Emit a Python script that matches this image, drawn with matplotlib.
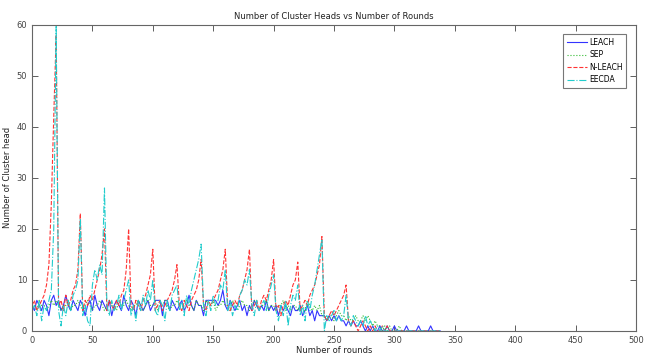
import matplotlib
matplotlib.use("Agg")
import matplotlib.pyplot as plt
import numpy as np

# rounds sampled every 2 rounds
rounds = np.arange(0, 340, 2)

leach = [5, 4, 6, 5, 4, 6, 5, 3, 6, 7,
         5, 6, 4, 5, 7, 5, 4, 6, 5, 4,
         6, 5, 3, 5, 6, 4, 7, 5, 4, 6,
         5, 4, 6, 3, 5, 6, 5, 4, 7, 5,
         4, 6, 5, 3, 6, 5, 4, 5, 6, 4,
         5, 6, 6, 6, 3, 6, 6, 4, 6, 5,
         4, 5, 6, 4, 5, 7, 5, 4, 6, 5,
         5, 3, 6, 6, 6, 6, 6, 5, 6, 8,
         5, 4, 6, 5, 4, 5, 6, 4, 5, 3,
         5, 4, 6, 5, 4, 5, 4, 6, 4, 5,
         4, 5, 3, 5, 4, 5, 4, 3, 5, 4,
         4, 5, 3, 4, 5, 3, 4, 2, 4, 3,
         3, 3, 2, 3, 2, 3, 2, 3, 2, 2,
         1, 2, 1, 2, 1, 1, 2, 1, 0, 1,
         0, 1, 0, 0, 1, 0, 0, 1, 0, 0,
         1, 0, 0, 0, 0, 1, 0, 0, 0, 0,
         1, 0, 0, 0, 0, 1, 0, 0, 0, 0]

sep = [5, 5, 4, 6, 5, 5, 4, 5, 6, 5,
       6, 5, 4, 5, 5, 6, 4, 5, 5, 6,
       5, 4, 5, 6, 5, 4, 5, 5, 6, 5,
       4, 5, 6, 5, 5, 4, 6, 5, 5, 6,
       5, 4, 5, 5, 6, 5, 4, 5, 6, 5,
       5, 6, 4, 5, 5, 6, 5, 4, 5, 5,
       6, 5, 4, 5, 6, 5, 5, 4, 6, 5,
       5, 4, 6, 5, 5, 6, 4, 5, 5, 6,
       5, 5, 4, 6, 5, 4, 5, 6, 5, 5,
       4, 5, 6, 5, 4, 5, 5, 6, 4, 5,
       5, 4, 5, 5, 6, 4, 5, 4, 5, 5,
       4, 5, 5, 4, 6, 5, 4, 5, 4, 5,
       3, 3, 2, 3, 3, 2, 3, 4, 3, 3,
       2, 3, 2, 2, 3, 2, 2, 3, 2, 3,
       2, 1, 2, 1, 1, 0, 1, 0, 1, 0,
       0, 0, 1, 0, 0, 0, 0, 0, 0, 0,
       0, 0, 0, 0, 0, 0, 0, 0, 0, 0]

nleach = [5, 6, 4, 5, 6, 7, 9, 13, 25, 42,
          58, 5, 6, 4, 7, 5, 6, 8, 9, 12,
          23, 4, 6, 5, 7, 6, 8, 10, 12, 15,
          20, 4, 6, 5, 4, 6, 5, 7, 8, 12,
          20, 5, 4, 6, 5, 4, 6, 7, 9, 11,
          16, 4, 5, 6, 4, 5, 6, 7, 8, 10,
          13, 5, 4, 6, 5, 4, 6, 7, 8, 10,
          14, 5, 4, 6, 5, 6, 7, 8, 10, 12,
          16, 5, 4, 5, 6, 5, 7, 8, 10, 12,
          16, 4, 5, 6, 4, 6, 7, 6, 8, 10,
          14, 4, 5, 3, 5, 6, 5, 7, 9, 10,
          13.5, 4, 5, 6, 5, 7, 8, 9, 11, 13,
          18.5, 3, 2, 3, 4, 3, 4, 5, 6, 7,
          9, 2, 1, 2, 1, 0, 1, 2, 1, 0,
          1, 0, 1, 0, 0, 1, 0, 1, 0, 0,
          0, 0, 0, 0, 0, 0, 0, 0, 0, 0,
          0, 0, 0, 0, 0, 0, 0, 0, 0, 0]

eecda = [4, 5, 3, 6, 2, 5, 4, 6, 8, 20,
         60, 4, 1, 5, 3, 6, 4, 7, 8, 10,
         22, 3, 5, 2, 1, 9, 12, 10, 13, 11,
         28, 5, 3, 6, 4, 5, 7, 4, 6, 8,
         10, 3, 5, 2, 6, 4, 7, 5, 8, 6,
         10, 4, 3, 6, 5, 2, 6, 4, 7, 8,
         9, 4, 6, 3, 7, 5, 8, 10, 12, 14,
         17, 5, 3, 6, 4, 7, 5, 6, 9, 8,
         12, 4, 6, 3, 5, 4, 7, 8, 10, 9,
         12, 5, 3, 6, 4, 5, 6, 4, 7, 9,
         11, 4, 2, 5, 3, 6, 1, 5, 7, 6,
         9, 3, 5, 2, 6, 4, 7, 9, 12, 15,
         18, 0, 3, 2, 3, 4, 2, 3, 2, 3,
         7, 2, 1, 3, 2, 1, 2, 1, 3, 1,
         2, 1, 0, 1, 0, 1, 0, 0, 0, 0,
         0, 0, 0, 0, 0, 0, 0, 0, 0, 0,
         0, 0, 0, 0, 0, 0, 0, 0, 0, 0]

fig = plt.figure(figsize=(6.46, 3.56), dpi=100)
ax = fig.add_axes([32/646, 25/356, 604/646, 306.5/356])

ax.plot(rounds, leach, color='#3333ff', lw=0.8, label='LEACH')
ax.plot(rounds, sep, color='#33bb33', lw=0.8, ls=':', label='SEP')
ax.plot(rounds, nleach, color='#ff3333', lw=0.8, ls='--', label='N-LEACH')
ax.plot(rounds, eecda, color='#22cccc', lw=0.8, ls='-.', label='EECDA')

ax.set_xlim(0, 500)
ax.set_ylim(0, 60)
ax.set_xticks(np.arange(0, 501, 50))
ax.set_yticks(np.arange(0, 61, 10))
ax.tick_params(direction='in', top=True, right=True, labelsize=6,
               colors='#444444', length=4, width=0.6)
for s in ax.spines.values():
    s.set_color('#666666')
    s.set_linewidth(0.8)

ax.set_title('Number of Cluster Heads vs Number of Rounds', fontsize=6, pad=4, color='#222222')
ax.set_xlabel('Number of rounds', fontsize=6, labelpad=1, color='#222222')
ax.set_ylabel('Number of Cluster head', fontsize=6, labelpad=3, color='#222222')

leg = ax.legend(loc='upper right', bbox_to_anchor=(0.99, 0.98), fontsize=5.5,
                fancybox=False, framealpha=1, edgecolor='#777777',
                handlelength=2.6, handletextpad=0.3, labelspacing=0.45,
                borderpad=0.45)
leg.get_frame().set_linewidth(0.8)

fig.savefig('out.png', dpi=100)
